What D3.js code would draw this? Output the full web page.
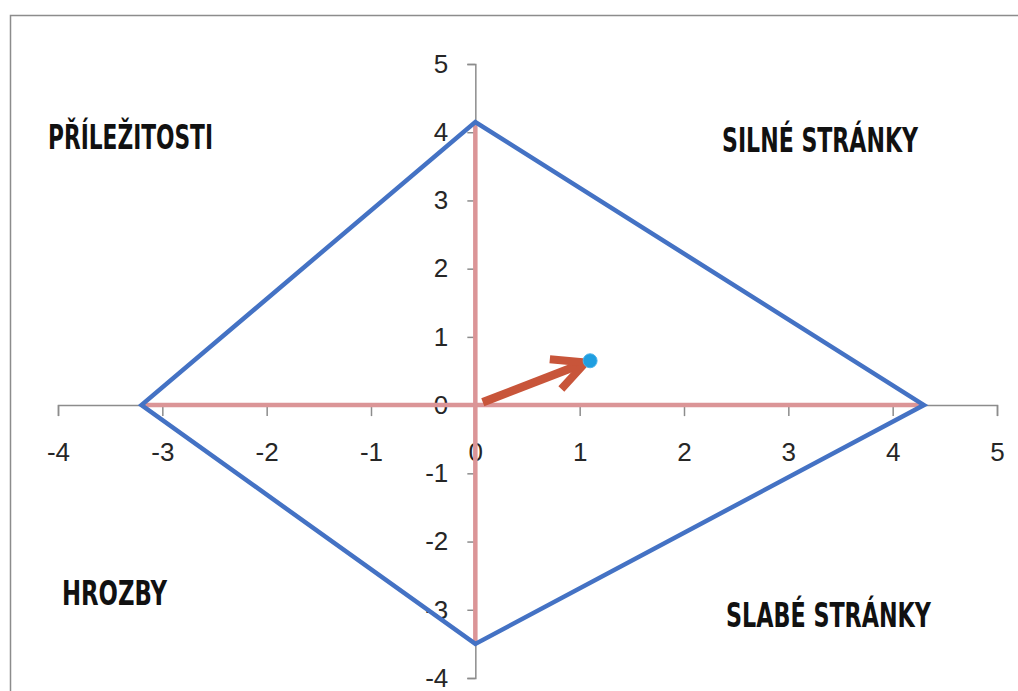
<!DOCTYPE html>
<html>
<head>
<meta charset="utf-8">
<script src="https://cdn.jsdelivr.net/npm/d3@7"></script>
<style>
  body { margin: 0; background: #fff; }
  svg { display: block; }
</style>
</head>
<body>
<div id="chart"></div>
<script>
// axis ticks
const xTicks = [-4, -3, -2, -1, 0, 1, 2, 3, 4, 5];
const yTicks = [-4, -3, -2, -1, 0, 1, 2, 3, 4, 5];

// diamond (SWOT strategy polygon): right, top, left, bottom
const diamondX = [4.3, 0, -3.2, 0];
const diamondY = [0, 4.15, 0, -3.5];

// resulting vector end point
const pointX = [1.1];
const pointY = [0.65];

// quadrant names
const quadrants = ["SILNÉ STRÁNKY", "PŘÍLEŽITOSTI", "HROZBY", "SLABÉ STRÁNKY"];

const width = 1018;
const height = 691;

const svg = d3.select("#chart")
  .append("svg")
  .attr("width", width)
  .attr("height", height);

// chart border
svg.append("rect")
  .attr("x", 10.5)
  .attr("y", 15.5)
  .attr("width", 1100)
  .attr("height", 1000)
  .attr("fill", "none")
  .attr("stroke", "#8c8c8c")
  .attr("stroke-width", 1.5);

const xScale = d3.scaleLinear()
  .domain([-4, 5])
  .range([58, 997]);

const yScale = d3.scaleLinear()
  .domain([-4, 5])
  .range([678, 64]);

const tickFont = "'Liberation Sans Narrow', 'Liberation Sans', Arial, sans-serif";

// x axis
const xAxis = svg.append("g")
  .attr("transform", `translate(0,${yScale(0)})`)
  .call(d3.axisBottom(xScale).tickValues(xTicks).tickSize(11).tickPadding(26).tickFormat(d3.format("d")));

// y axis
const yAxis = svg.append("g")
  .attr("transform", `translate(${xScale(0)},0)`)
  .call(d3.axisLeft(yScale).tickValues(yTicks).tickSize(8).tickPadding(19).tickFormat(d3.format("d")));

[xAxis, yAxis].forEach(g => {
  g.select(".domain").attr("stroke", "#8c8c8c").attr("stroke-width", 1.5);
  g.selectAll(".tick line").attr("stroke", "#8c8c8c").attr("stroke-width", 1.5);
  g.selectAll(".tick text")
    .attr("fill", "#262626")
    .style("font-family", tickFont)
    .style("font-size", "26px")
    .text(d => d < 0 ? "-" + Math.abs(d) : d);
});

// pink cross lines through origin, spanning the diamond
const xExt = d3.extent(diamondX);
const yExt = d3.extent(diamondY);

svg.append("line")
  .attr("x1", xScale(xExt[0])).attr("y1", yScale(0))
  .attr("x2", xScale(xExt[1])).attr("y2", yScale(0))
  .attr("stroke", "#db9597")
  .attr("stroke-width", 4.5);

svg.append("line")
  .attr("x1", xScale(0)).attr("y1", yScale(yExt[0]))
  .attr("x2", xScale(0)).attr("y2", yScale(yExt[1]))
  .attr("stroke", "#db9597")
  .attr("stroke-width", 4.5);

// diamond
const diamond = diamondX.map((x, i) => [xScale(x), yScale(diamondY[i])]);
svg.append("path")
  .attr("d", d3.line()(diamond) + "Z")
  .attr("fill", "none")
  .attr("stroke", "#4472c4")
  .attr("stroke-width", 4.5)
  .attr("stroke-linejoin", "miter");

// arrow from origin to point
const ox = xScale(0), oy = yScale(0);
const px = xScale(pointX[0]), py = yScale(pointY[0]);
const len = Math.hypot(px - ox, py - oy);
const ux = (px - ox) / len, uy = (py - oy) / len;
const nx = -uy, ny = ux;
const tipX = px - ux * 5, tipY = py - uy * 5;

svg.append("line")
  .attr("x1", ox + ux * 8).attr("y1", oy + uy * 8)
  .attr("x2", tipX - ux * 4).attr("y2", tipY - uy * 4)
  .attr("stroke", "#c8553a")
  .attr("stroke-width", 8.5);

svg.append("path")
  .attr("d", d3.line()([
    [tipX - ux * 32 + nx * 16, tipY - uy * 32 + ny * 16],
    [tipX, tipY],
    [tipX - ux * 32 - nx * 16, tipY - uy * 32 - ny * 16]
  ]))
  .attr("fill", "none")
  .attr("stroke", "#c8553a")
  .attr("stroke-width", 8)
  .attr("stroke-linejoin", "round");

// point
svg.selectAll("circle.pt")
  .data(pointX)
  .enter()
  .append("circle")
  .attr("class", "pt")
  .attr("cx", (d, i) => xScale(d))
  .attr("cy", (d, i) => yScale(pointY[i]))
  .attr("r", 7)
  .attr("fill", "#1f9ee0")
  .attr("stroke", "#4ab3ea")
  .attr("stroke-width", 1);

// quadrant labels
const labelPos = [
  { x: 722, y: 152, w: 196 },
  { x: 48, y: 149, w: 165 },
  { x: 62, y: 605, w: 105 },
  { x: 726, y: 627, w: 205 }
];

svg.selectAll("text.quad")
  .data(quadrants)
  .enter()
  .append("text")
  .attr("class", "quad")
  .attr("x", (d, i) => labelPos[i].x)
  .attr("y", (d, i) => labelPos[i].y)
  .attr("textLength", (d, i) => labelPos[i].w)
  .attr("lengthAdjust", "spacingAndGlyphs")
  .style("font-family", "'Liberation Sans Narrow', 'DejaVu Sans Condensed', sans-serif")
  .style("font-weight", "bold")
  .style("font-size", "34px")
  .attr("fill", "#111")
  .text(d => d);
</script>
</body>
</html>
